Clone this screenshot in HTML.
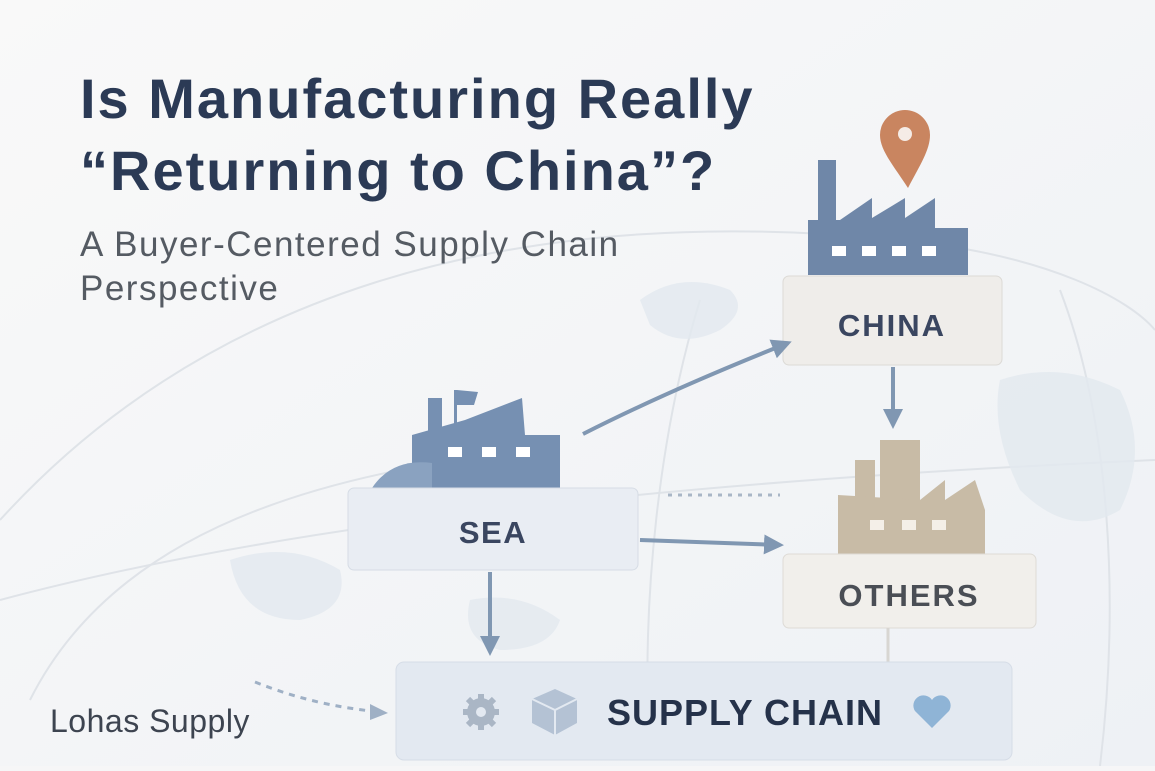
<!DOCTYPE html>
<html><head><meta charset="utf-8"><style>
body{margin:0;width:1155px;height:766px;overflow:hidden;background:#f6f6f7;font-family:"Liberation Sans",sans-serif}
</style></head><body>
<svg width="1155" height="766" viewBox="0 0 1155 766" xmlns="http://www.w3.org/2000/svg">
<defs>
<linearGradient id="bg" x1="0" y1="0" x2="1" y2="1"><stop offset="0" stop-color="#f9f9f9"/><stop offset="1" stop-color="#eef1f5"/></linearGradient>
<marker id="ah" viewBox="0 0 10 10" refX="8" refY="5" markerWidth="5" markerHeight="5" orient="auto"><path d="M0,0L10,5L0,10z" fill="#8097b2"/></marker>
</defs>
<rect width="1155" height="766" fill="url(#bg)"/>
<g fill="none" stroke="#dfe3e8" stroke-width="2">
<path d="M0,520 C200,300 500,200 900,240 C1050,255 1130,300 1155,330"/>
<path d="M0,600 C300,520 700,480 1155,460"/>
<path d="M30,700 C100,560 250,500 400,470"/>
<path d="M650,760 C640,600 660,430 700,300"/>
<path d="M1100,766 C1120,600 1110,420 1060,290"/>
</g>
<g fill="#e2e8ef" opacity="0.8">
<path d="M640,300 q40,-30 90,-10 q20,20 -10,40 q-40,20 -70,-5z"/>
<path d="M1000,380 q60,-20 120,10 q30,60 0,120 q-50,30 -100,-20 q-30,-60 -20,-110z"/>
<path d="M230,560 q60,-20 110,10 q10,40 -40,50 q-60,0 -70,-60z"/>
<path d="M470,600 q50,-10 90,20 q-10,30 -60,30 q-40,-10 -30,-50z"/>
</g>
<text x="80" y="118" font-size="56" font-weight="bold" fill="#2b3a55" letter-spacing="2">Is Manufacturing Really</text>
<text x="80" y="190" font-size="56" font-weight="bold" fill="#2b3a55" letter-spacing="2">“Returning to China”?</text>
<text x="80" y="256" font-size="35" fill="#555b63" letter-spacing="1.5">A Buyer-Centered Supply Chain</text>
<text x="80" y="300" font-size="35" fill="#555b63" letter-spacing="1.5">Perspective</text>
<text x="50" y="732" font-size="32" fill="#3d4450" letter-spacing="0.5">Lohas Supply</text>
<g fill="#6f87a8">
<rect x="818" y="160" width="18" height="60"/>
<path d="M808,220 L808,275 L968,275 L968,228 L935,228 L935,198 L905,218 L905,198 L872,218 L872,198 L840,220z"/>
</g>
<g fill="#fff"><rect x="832" y="246" width="14" height="10"/><rect x="862" y="246" width="14" height="10"/><rect x="892" y="246" width="14" height="10"/><rect x="922" y="246" width="14" height="10"/></g>
<path d="M908,188 C893,165 880,150 880,135 A25,25 0 0 1 930,135 C930,150 920,165 908,188z" fill="#c98560"/>
<circle cx="905" cy="134" r="7" fill="#f5ece6"/>
<rect x="783" y="276" width="219" height="89" rx="6" fill="#efedea" stroke="#dcdad6"/>
<text x="892" y="336" font-size="31" font-weight="bold" fill="#3a4660" text-anchor="middle" letter-spacing="2">CHINA</text>
<g fill="#7690b2">
<rect x="428" y="398" width="14" height="40"/>
<rect x="454" y="390" width="3" height="40"/><path d="M457,390 L478,392 L474,405 L457,405z"/>
<path d="M412,435 L465,420 L522,398 L525,435 L560,435 L560,488 L412,488z"/>
<path d="M372,488 q20,-30 60,-25 l0,25z" fill="#8aa2c0"/>
</g>
<g fill="#fff"><rect x="448" y="447" width="14" height="10"/><rect x="482" y="447" width="14" height="10"/><rect x="516" y="447" width="14" height="10"/></g>
<rect x="348" y="488" width="290" height="82" rx="6" fill="#e9edf3" stroke="#d6dce5"/>
<text x="493" y="543" font-size="31" font-weight="bold" fill="#3a4660" text-anchor="middle" letter-spacing="1.5">SEA</text>
<g fill="#c8bba6">
<rect x="855" y="460" width="20" height="60"/>
<rect x="880" y="440" width="40" height="80"/>
<path d="M838,495 L838,554 L985,554 L985,510 L975,480 L945,500 L945,480 L920,500 L838,495z"/>
</g>
<g fill="#f4efe8"><rect x="870" y="520" width="14" height="10"/><rect x="902" y="520" width="14" height="10"/><rect x="932" y="520" width="14" height="10"/></g>
<rect x="783" y="554" width="253" height="74" rx="6" fill="#f1efeb" stroke="#dedbd6"/>
<text x="909" y="606" font-size="31" font-weight="bold" fill="#4a4e55" text-anchor="middle" letter-spacing="2">OTHERS</text>
<line x1="888" y1="628" x2="888" y2="662" stroke="#d8d6d2" stroke-width="3"/>
<rect x="396" y="662" width="616" height="98" rx="8" fill="#e3e9f1" stroke="#d6dde7"/>
<circle cx="481" cy="712" r="14" fill="#aab6c5"/>
<g stroke="#aab6c5" stroke-width="6"><line x1="481" y1="694" x2="481" y2="730"/><line x1="463" y1="712" x2="499" y2="712"/><line x1="468" y1="699" x2="494" y2="725"/><line x1="468" y1="725" x2="494" y2="699"/></g>
<circle cx="481" cy="712" r="5" fill="#e3e9f1"/>
<path d="M532,699 L555,689 L577,699 L577,723 L555,735 L532,723z" fill="#b4c2d4"/>
<path d="M532,699 L555,710 L577,699 M555,710 L555,735" stroke="#e3e9f1" stroke-width="2" fill="none"/>
<text x="745" y="725" font-size="36" font-weight="bold" fill="#25324a" text-anchor="middle" letter-spacing="1">SUPPLY CHAIN</text>
<path d="M932,728 L915,711 A9,9 0 0 1 932,700 A9,9 0 0 1 949,711z" fill="#8fb4d6"/>
<g stroke="#8097b2" stroke-width="4" fill="none" marker-end="url(#ah)">
<path d="M583,434 C650,400 720,370 788,343"/>
<line x1="893" y1="367" x2="893" y2="425"/>
<line x1="640" y1="540" x2="780" y2="545"/>
<line x1="490" y1="572" x2="490" y2="652"/>
</g>
<path d="M255,682 C300,700 340,708 380,712" stroke="#9fb0c5" stroke-width="3" fill="none" stroke-dasharray="6 6"/>
<path d="M370,704 L388,713 L370,720z" fill="#9fb0c5"/>
<line x1="668" y1="495" x2="780" y2="495" stroke="#a9b6c6" stroke-width="3" stroke-dasharray="4 6"/>
</svg>
</body></html>
